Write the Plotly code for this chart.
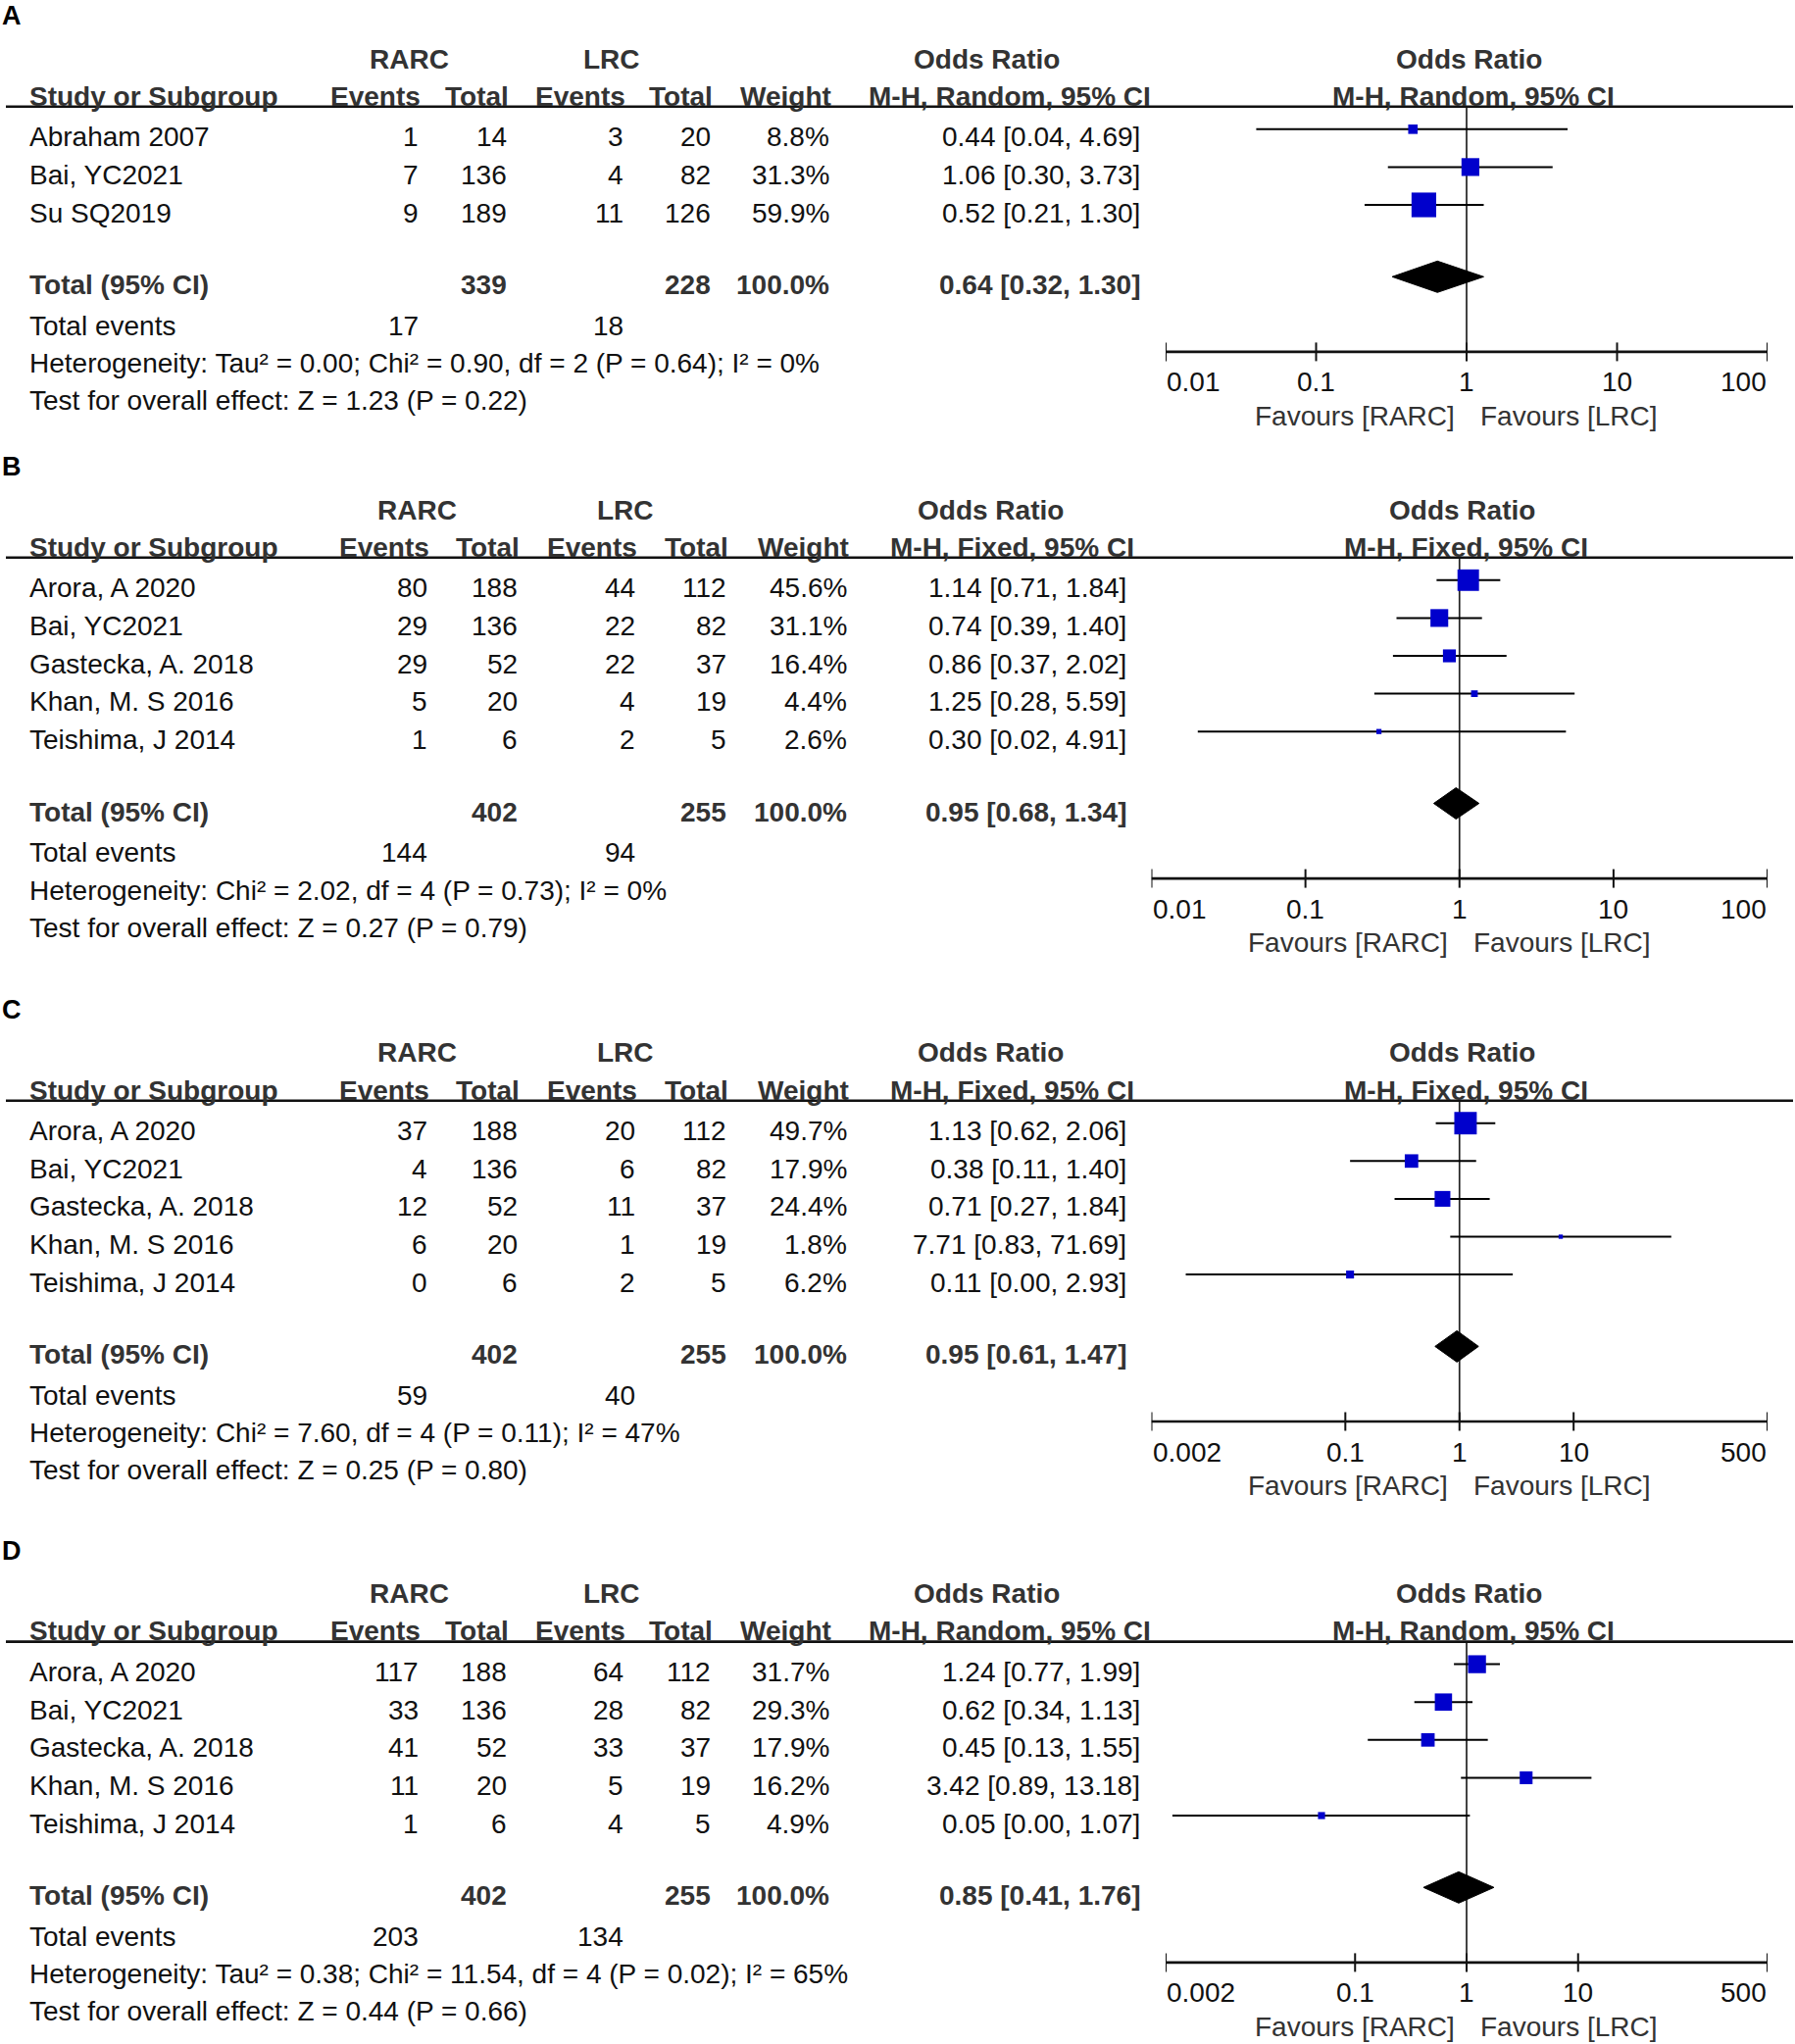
import math
import plotly.graph_objects as go

W, H = 1831, 2085
FONT = "Liberation Sans, Arial, sans-serif"
FS = 28

# ---------------- data ----------------
# Panel A
A_study = ["Abraham 2007", "Bai, YC2021", "Su SQ2019"]
A_rarc_events = [1, 7, 9]
A_rarc_total = [14, 136, 189]
A_lrc_events = [3, 4, 11]
A_lrc_total = [20, 82, 126]
A_weight = [8.8, 31.3, 59.9]
A_or = [0.44, 1.06, 0.52]
A_lo = [0.04, 0.30, 0.21]
A_hi = [4.69, 3.73, 1.30]
A_totals = [339, 228]
A_total_weight = 100.0
A_total_events = [17, 18]
A_pooled = [0.64, 0.32, 1.30]
A_method = "M-H, Random, 95% CI"
A_het = "Heterogeneity: Tau² = 0.00; Chi² = 0.90, df = 2 (P = 0.64); I² = 0%"
A_test = "Test for overall effect: Z = 1.23 (P = 0.22)"
A_ticks = [0.01, 0.1, 1, 10, 100]
A_tick_labels = ["0.01", "0.1", "1", "10", "100"]

# Panel B
B_study = ["Arora, A 2020", "Bai, YC2021", "Gastecka, A. 2018", "Khan, M. S 2016", "Teishima, J 2014"]
B_rarc_events = [80, 29, 29, 5, 1]
B_rarc_total = [188, 136, 52, 20, 6]
B_lrc_events = [44, 22, 22, 4, 2]
B_lrc_total = [112, 82, 37, 19, 5]
B_weight = [45.6, 31.1, 16.4, 4.4, 2.6]
B_or = [1.14, 0.74, 0.86, 1.25, 0.30]
B_lo = [0.71, 0.39, 0.37, 0.28, 0.02]
B_hi = [1.84, 1.40, 2.02, 5.59, 4.91]
B_totals = [402, 255]
B_total_weight = 100.0
B_total_events = [144, 94]
B_pooled = [0.95, 0.68, 1.34]
B_method = "M-H, Fixed, 95% CI"
B_het = "Heterogeneity: Chi² = 2.02, df = 4 (P = 0.73); I² = 0%"
B_test = "Test for overall effect: Z = 0.27 (P = 0.79)"
B_ticks = [0.01, 0.1, 1, 10, 100]
B_tick_labels = ["0.01", "0.1", "1", "10", "100"]

# Panel C
C_study = ["Arora, A 2020", "Bai, YC2021", "Gastecka, A. 2018", "Khan, M. S 2016", "Teishima, J 2014"]
C_rarc_events = [37, 4, 12, 6, 0]
C_rarc_total = [188, 136, 52, 20, 6]
C_lrc_events = [20, 6, 11, 1, 2]
C_lrc_total = [112, 82, 37, 19, 5]
C_weight = [49.7, 17.9, 24.4, 1.8, 6.2]
C_or = [1.13, 0.38, 0.71, 7.71, 0.11]
C_lo = [0.62, 0.11, 0.27, 0.83, 0.004]
C_hi = [2.06, 1.40, 1.84, 71.69, 2.93]
C_totals = [402, 255]
C_total_weight = 100.0
C_total_events = [59, 40]
C_pooled = [0.95, 0.61, 1.47]
C_method = "M-H, Fixed, 95% CI"
C_het = "Heterogeneity: Chi² = 7.60, df = 4 (P = 0.11); I² = 47%"
C_test = "Test for overall effect: Z = 0.25 (P = 0.80)"
C_ticks = [0.002, 0.1, 1, 10, 500]
C_tick_labels = ["0.002", "0.1", "1", "10", "500"]

# Panel D
D_study = ["Arora, A 2020", "Bai, YC2021", "Gastecka, A. 2018", "Khan, M. S 2016", "Teishima, J 2014"]
D_rarc_events = [117, 33, 41, 11, 1]
D_rarc_total = [188, 136, 52, 20, 6]
D_lrc_events = [64, 28, 33, 5, 4]
D_lrc_total = [112, 82, 37, 19, 5]
D_weight = [31.7, 29.3, 17.9, 16.2, 4.9]
D_or = [1.24, 0.62, 0.45, 3.42, 0.05]
D_lo = [0.77, 0.34, 0.13, 0.89, 0.0023]
D_hi = [1.99, 1.13, 1.55, 13.18, 1.07]
D_totals = [402, 255]
D_total_weight = 100.0
D_total_events = [203, 134]
D_pooled = [0.85, 0.41, 1.76]
D_method = "M-H, Random, 95% CI"
D_het = "Heterogeneity: Tau² = 0.38; Chi² = 11.54, df = 4 (P = 0.02); I² = 65%"
D_test = "Test for overall effect: Z = 0.44 (P = 0.66)"
D_ticks = [0.002, 0.1, 1, 10, 500]
D_tick_labels = ["0.002", "0.1", "1", "10", "500"]

GROUP1 = "RARC"
GROUP2 = "LRC"

# ---------------- layout (pixel positions) ----------------
LAY_RANDOM = dict(study=29, ev1=428, tot1=518, ev2=637, tot2=726, wt=847, ci=1164,
                  ci_hdr=1029.5, or_hdr=1007, rarc=417, lrc=624,
                  ax0=1189, ax1=1803, or_r=1498, hdr_r=1502.5)
LAY_FIXED = dict(study=29, ev1=437, tot1=528.5, ev2=649, tot2=742, wt=865, ci=1149.5,
                 ci_hdr=1032.7, or_hdr=1010.7, rarc=425.7, lrc=637.8,
                 ax0=1174.5, ax1=1803, or_r=1491, hdr_r=1495.3)

panels = [
    dict(letter="A", study=A_study, e1=A_rarc_events, t1=A_rarc_total, e2=A_lrc_events, t2=A_lrc_total,
         w=A_weight, orv=A_or, lo=A_lo, hi=A_hi, totals=A_totals, tw=A_total_weight, te=A_total_events,
         pooled=A_pooled, method=A_method, het=A_het, test=A_test, ticks=A_ticks, tlab=A_tick_labels,
         lay=LAY_RANDOM, line_y=108.8),
    dict(letter="B", study=B_study, e1=B_rarc_events, t1=B_rarc_total, e2=B_lrc_events, t2=B_lrc_total,
         w=B_weight, orv=B_or, lo=B_lo, hi=B_hi, totals=B_totals, tw=B_total_weight, te=B_total_events,
         pooled=B_pooled, method=B_method, het=B_het, test=B_test, ticks=B_ticks, tlab=B_tick_labels,
         lay=LAY_FIXED, line_y=568.8),
    dict(letter="C", study=C_study, e1=C_rarc_events, t1=C_rarc_total, e2=C_lrc_events, t2=C_lrc_total,
         w=C_weight, orv=C_or, lo=C_lo, hi=C_hi, totals=C_totals, tw=C_total_weight, te=C_total_events,
         pooled=C_pooled, method=C_method, het=C_het, test=C_test, ticks=C_ticks, tlab=C_tick_labels,
         lay=LAY_FIXED, line_y=1122.7),
    dict(letter="D", study=D_study, e1=D_rarc_events, t1=D_rarc_total, e2=D_lrc_events, t2=D_lrc_total,
         w=D_weight, orv=D_or, lo=D_lo, hi=D_hi, totals=D_totals, tw=D_total_weight, te=D_total_events,
         pooled=D_pooled, method=D_method, het=D_het, test=D_test, ticks=D_ticks, tlab=D_tick_labels,
         lay=LAY_RANDOM, line_y=1674.6),
]

ROW0 = 30.0
STEP = 38.6
TOTAL_GAP = 73.8
TE_GAP = 41.5
HET_GAP = 38.5
TEST_GAP = 38.0
AXIS_GAP = 142.9
TL_GAP = 30.0
FAV_GAP = 64.7
H1 = -49.8
H2 = -11.7
LETTER = -94.0
MARK_OFF = -7.0
TXT_OFF = 1.0
DIAMOND_H = 16.0

BOLD_C = "#333333"
TXT_C = "#111111"
BLUE = "#0000CC"

fig = go.Figure()
annotations = []
shapes = []


def ann(text, x, y, xanchor="left", bold=False, color=TXT_C, size=FS, xref="paper", xshift=0):
    if bold:
        text = f"<b>{text}</b>"
    annotations.append(dict(
        text=text, x=(x / W if xref == "paper" else x), y=y + TXT_OFF,
        xref=xref, yref="y", xanchor=xanchor, yanchor="middle", showarrow=False,
        font=dict(size=size, color=color, family=FONT), borderpad=0, xshift=xshift))


for i, p in enumerate(panels):
    n = i + 1
    xname = "x" if n == 1 else f"x{n}"
    xkey = "xaxis" if n == 1 else f"xaxis{n}"
    L = p["lay"]
    ly = p["line_y"]
    nrow = len(p["study"])
    rows_y = [ly + ROW0 + j * STEP for j in range(nrow)]
    last = rows_y[-1]
    tot_y = last + TOTAL_GAP
    te_y = tot_y + TE_GAP
    het_y = te_y + HET_GAP
    test_y = het_y + TEST_GAP
    ax_y = last + AXIS_GAP
    tl_y = ax_y + TL_GAP
    fav_y = ax_y + FAV_GAP

    # axis
    ticks = p["ticks"]
    fig.update_layout(**{xkey: dict(type="log", range=[math.log10(ticks[0]), math.log10(ticks[-1])],
                                    domain=[L["ax0"] / W, L["ax1"] / W], visible=False,
                                    anchor="y", fixedrange=True)})

    # panel letter
    ann(p["letter"], 1, ly + LETTER, bold=True, color="#000000", size=27)

    # headers
    ann(GROUP1, L["rarc"], ly + H1, "center", bold=True, color=BOLD_C)
    ann(GROUP2, L["lrc"], ly + H1, "center", bold=True, color=BOLD_C)
    ann("Odds Ratio", L["or_hdr"], ly + H1, "center", bold=True, color=BOLD_C)
    ann("Odds Ratio", L["or_r"], ly + H1, "center", bold=True, color=BOLD_C)
    ann("Study or Subgroup", L["study"], ly + H2, bold=True, color=BOLD_C)
    ann("Events", L["ev1"] + 2, ly + H2, "right", bold=True, color=BOLD_C)
    ann("Total", L["tot1"] + 2, ly + H2, "right", bold=True, color=BOLD_C)
    ann("Events", L["ev2"] + 2, ly + H2, "right", bold=True, color=BOLD_C)
    ann("Total", L["tot2"] + 2, ly + H2, "right", bold=True, color=BOLD_C)
    ann("Weight", L["wt"] + 2, ly + H2, "right", bold=True, color=BOLD_C)
    ann(p["method"], L["ci_hdr"], ly + H2, "center", bold=True, color=BOLD_C)
    ann(p["method"], L["hdr_r"], ly + H2, "center", bold=True, color=BOLD_C)

    shapes.append(dict(type="line", xref="paper", yref="y", x0=6 / W, x1=1829 / W, y0=ly, y1=ly,
                       line=dict(color="#111111", width=2.6)))

    # study rows
    for j in range(nrow):
        y = rows_y[j]
        ann(p["study"][j], L["study"], y)
        ann(str(p["e1"][j]), L["ev1"], y, "right")
        ann(str(p["t1"][j]), L["tot1"], y, "right")
        ann(str(p["e2"][j]), L["ev2"], y, "right")
        ann(str(p["t2"][j]), L["tot2"], y, "right")
        ann(f"{p['w'][j]:.1f}%", L["wt"], y, "right")
        ann(f"{p['orv'][j]:.2f} [{p['lo'][j]:.2f}, {p['hi'][j]:.2f}]", L["ci"], y, "right")

    # totals
    ann("Total (95% CI)", L["study"], tot_y, bold=True, color=BOLD_C)
    ann(str(p["totals"][0]), L["tot1"], tot_y, "right", bold=True, color=BOLD_C)
    ann(str(p["totals"][1]), L["tot2"], tot_y, "right", bold=True, color=BOLD_C)
    ann(f"{p['tw']:.1f}%", L["wt"], tot_y, "right", bold=True, color=BOLD_C)
    pe, plo, phi = p["pooled"]
    ann(f"{pe:.2f} [{plo:.2f}, {phi:.2f}]", L["ci"], tot_y, "right", bold=True, color=BOLD_C)
    ann("Total events", L["study"], te_y)
    ann(str(p["te"][0]), L["ev1"], te_y, "right")
    ann(str(p["te"][1]), L["ev2"], te_y, "right")
    ann(p["het"], L["study"], het_y)
    ann(p["test"], L["study"], test_y)

    # reference line at OR = 1
    fig.add_trace(go.Scatter(x=[1, 1], y=[ly, ax_y], mode="lines", xaxis=xname, yaxis="y",
                             line=dict(color="#222222", width=1.7), hoverinfo="skip", cliponaxis=False))

    # CI lines
    cx, cy = [], []
    for j in range(nrow):
        yy = rows_y[j] + MARK_OFF
        cx += [p["lo"][j], p["hi"][j], None]
        cy += [yy, yy, None]
    fig.add_trace(go.Scatter(x=cx, y=cy, mode="lines", xaxis=xname, yaxis="y",
                             line=dict(color="#000000", width=2), hoverinfo="skip", cliponaxis=False))
    # study squares
    fig.add_trace(go.Scatter(x=p["orv"], y=[r + MARK_OFF for r in rows_y], mode="markers",
                             xaxis=xname, yaxis="y",
                             marker=dict(symbol="square", color=BLUE, opacity=1,
                                         size=[max(4.0, 3.25 * math.sqrt(w)) for w in p["w"]],
                                         line=dict(width=0)),
                             hoverinfo="skip", cliponaxis=False))
    # pooled diamond
    yc = tot_y - 7.5
    fig.add_trace(go.Scatter(x=[plo, pe, phi, pe, plo], y=[yc, yc - DIAMOND_H, yc, yc + DIAMOND_H, yc],
                             mode="lines", fill="toself", fillcolor="#000000",
                             line=dict(color="#000000", width=1), xaxis=xname, yaxis="y",
                             hoverinfo="skip", cliponaxis=False))

    # x axis line and crossing ticks
    fig.add_trace(go.Scatter(x=[ticks[0], ticks[-1]], y=[ax_y, ax_y], mode="lines", xaxis=xname, yaxis="y",
                             line=dict(color="#111111", width=2.6), hoverinfo="skip", cliponaxis=False))
    tx, ty = [], []
    for t in ticks:
        tx += [t, t, None]
        ty += [ax_y - 9.5, ax_y + 9.5, None]
    fig.add_trace(go.Scatter(x=tx, y=ty, mode="lines", xaxis=xname, yaxis="y",
                             line=dict(color="#111111", width=2), hoverinfo="skip", cliponaxis=False))
    for k, (t, lab) in enumerate(zip(ticks, p["tlab"])):
        xa = "left" if k == 0 else ("right" if k == len(ticks) - 1 else "center")
        ann(lab, math.log10(t), tl_y, xa, xref=xname, color="#111111")
    ann(f"Favours [{GROUP1}]", 0, fav_y, "right", xref=xname, color="#333333", xshift=-11)
    ann(f"Favours [{GROUP2}]", 0, fav_y, "left", xref=xname, color="#333333", xshift=13)

fig.update_layout(
    width=W, height=H,
    margin=dict(l=0, r=0, t=0, b=0),
    paper_bgcolor="white", plot_bgcolor="rgba(0,0,0,0)",
    showlegend=False,
    yaxis=dict(domain=[0, 1], range=[H, 0], visible=False, fixedrange=True),
    annotations=annotations,
    shapes=shapes,
)

fig.write_html("out.html", config={"displayModeBar": False, "staticPlot": True},
               post_script="document.body.style.margin='0';document.body.style.overflow='hidden';")
